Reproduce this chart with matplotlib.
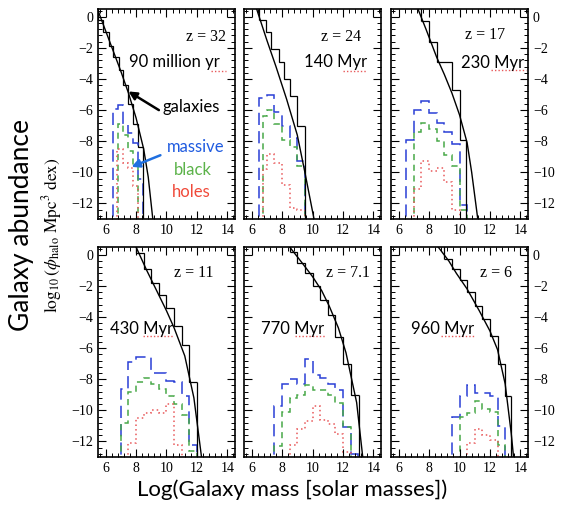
import matplotlib
matplotlib.use("Agg")
import matplotlib.pyplot as plt
from matplotlib.ticker import MultipleLocator, AutoMinorLocator

plt.rcParams['font.family'] = ['Liberation Serif', 'DejaVu Serif']
plt.rcParams['mathtext.fontset'] = 'stix'
SANS = 'Lato'

# ---- panel labels ----
z_labels = ["z = 32", "z = 24", "z = 17", "z = 11", "z = 7.1", "z = 6"]
age_labels = ["90 million yr", "140 Myr", "230 Myr", "430 Myr", "770 Myr", "960 Myr"]

# ---- analytic mass function (black curve) ----
cx_z32 = [5.5, 6.0, 6.5, 7.0, 7.5, 8.0, 8.5, 8.8, 9.1]
cy_z32 = [0.4, -0.9, -2.2, -3.5, -4.9, -6.5, -8.5, -10.3, -13.0]
cx_z24 = [6.33, 7.0, 7.6, 8.3, 9.0, 9.5, 10.1]
cy_z24 = [0.5, -1.5, -3.2, -5.3, -7.6, -10.0, -13.0]
cx_z17 = [7.27, 7.8, 8.5, 9.0, 9.5, 10.0, 10.5, 10.8, 11.2]
cy_z17 = [0.5, -0.8, -2.6, -3.7, -4.9, -6.3, -8.1, -10.0, -13.0]
cx_z11 = [8.0, 8.7, 9.3, 10.0, 10.5, 11.2, 11.8, 12.3]
cy_z11 = [0.5, -1.0, -2.2, -3.6, -4.7, -6.5, -9.2, -13.0]
cx_z7 = [8.5, 9.3, 10.0, 10.6, 11.1, 11.7, 12.2, 12.9, 13.3]
cy_z7 = [0.5, -0.5, -1.4, -2.3, -3.3, -4.7, -6.3, -9.5, -13.0]
cx_z6 = [8.6, 9.3, 9.8, 10.5, 11.3, 12.0, 12.5, 13.0, 13.4, 13.55]
cy_z6 = [0.5, -0.4, -1.2, -2.2, -3.6, -4.9, -6.1, -8.3, -11.5, -13.0]

# ---- galaxy histogram (black steps) ----
ge_z32 = [5.5, 5.85, 6.2, 6.5, 6.85, 7.15, 7.5, 7.8, 8.15, 8.45]
gv_z32 = [-0.2, -1.0, -1.9, -2.6, -3.4, -4.4, -5.6, -6.9, -8.4]
ge_z24 = [6.5, 6.95, 7.3, 7.8, 8.15, 8.5, 9.0, 9.5]
gv_z24 = [-0.2, -1.0, -2.1, -2.9, -4.0, -5.1, -7.0]
ge_z17 = [7.5, 8.0, 8.5, 9.5, 10.0, 10.45]
gv_z17 = [-0.3, -1.6, -2.9, -4.7, -7.9]
ge_z11 = [8.0, 8.5, 9.0, 9.5, 10.0, 10.5, 11.0, 11.5, 12.0]
gv_z11 = [0.1, -0.9, -1.8, -2.6, -3.4, -4.6, -5.8, -8.2]
ge_z7 = [8.5, 9.0, 9.5, 10.0, 10.5, 11.0, 11.5, 12.0, 12.5, 13.05]
gv_z7 = [0.2, -0.5, -1.2, -2.0, -2.9, -3.9, -5.3, -7.0, -9.0]
ge_z6 = [9.0, 9.5, 10.0, 10.5, 11.0, 11.5, 12.0, 12.5, 13.0, 13.4]
gv_z6 = [-0.3, -0.9, -1.6, -2.4, -3.3, -4.1, -5.2, -7.0, -9.1]

# ---- black hole hosts: blue (all), green, red ----
be_z32 = [6.5, 6.83, 7.15, 7.48, 7.8, 8.13, 8.45]
bv_z32 = [-5.9, -5.7, -6.9, -7.5, -8.1, -10.4]
ne_z32 = [6.83, 7.15, 7.48, 7.8, 8.13]
nv_z32 = [-6.9, -7.6, -8.6, -9.5]
re_z32 = [6.75, 7.15, 7.5, 7.8, 8.13]
rv_z32 = [-8.5, -9.4, -9.7, -10.9]

be_z24 = [6.5, 7.0, 7.5, 8.0, 8.5, 9.0, 9.5]
bv_z24 = [-5.2, -5.0, -6.1, -7.0, -7.8, -9.3]
ne_z24 = [6.75, 7.0, 7.5, 8.0, 8.5, 9.0, 9.5]
nv_z24 = [-6.4, -6.0, -6.9, -7.9, -8.4, -9.6]
re_z24 = [6.75, 7.0, 7.5, 8.0, 8.5, 9.0, 9.5]
rv_z24 = [-9.8, -8.8, -9.4, -10.8, -12.3, -12.4]

be_z17 = [6.5, 7.0, 7.5, 8.0, 8.5, 9.0, 9.5, 10.0, 10.5]
bv_z17 = [-7.9, -6.0, -5.4, -6.2, -6.8, -7.4, -8.2, -12.1]
ne_z17 = [7.0, 7.5, 8.0, 8.5, 9.0, 9.5, 10.0, 10.5]
nv_z17 = [-7.4, -6.8, -7.2, -8.0, -8.9, -9.6, -12.4]
re_z17 = [7.0, 7.5, 8.0, 8.5, 9.0, 9.5, 10.0]
rv_z17 = [-11.1, -9.3, -9.9, -9.7, -10.6, -12.4]

be_z11 = [7.0, 7.5, 8.0, 8.5, 9.0, 9.5, 10.0, 10.5, 11.0, 11.5, 12.0]
bv_z11 = [-8.6, -6.9, -6.55, -6.6, -7.6, -7.6, -8.1, -8.2, -9.1, -12.2]
ne_z11 = [7.0, 7.5, 8.0, 8.5, 9.0, 9.5, 10.0, 10.5, 11.0, 11.5, 12.0]
nv_z11 = [-10.8, -8.8, -8.2, -7.9, -8.3, -8.6, -9.1, -9.6, -10.3, -12.6]
re_z11 = [7.5, 8.0, 8.5, 9.0, 9.5, 10.0, 10.5, 11.0]
rv_z11 = [-12.1, -10.5, -10.2, -10.0, -10.2, -9.6, -12.2]

be_z7 = [7.5, 8.0, 8.5, 9.0, 9.5, 10.0, 10.5, 11.0, 11.5, 12.0, 12.5, 13.0]
bv_z7 = [-9.7, -8.3, -8.0, -8.3, -6.7, -7.7, -7.9, -8.3, -8.7, -11.1, -12.8]
ne_z7 = [7.5, 8.0, 8.5, 9.0, 9.5, 10.0, 10.5, 11.0, 11.5, 12.0, 12.5]
nv_z7 = [-12.3, -10.1, -9.2, -9.0, -8.4, -8.7, -8.7, -9.0, -9.5, -11.1]
re_z7 = [8.5, 9.0, 9.5, 10.0, 10.5, 11.0, 11.5, 12.0, 12.5]
rv_z7 = [-12.2, -11.2, -10.7, -9.7, -10.6, -10.9, -11.5, -12.7]

be_z6 = [9.5, 10.0, 10.5, 11.0, 11.5, 12.0, 12.5, 13.0]
bv_z6 = [-10.4, -9.1, -8.4, -8.9, -8.9, -9.1, -11.0]
ne_z6 = [10.0, 10.5, 11.0, 11.5, 12.0, 12.5, 13.0]
nv_z6 = [-10.4, -10.2, -9.4, -9.9, -10.1, -12.2]
re_z6 = [10.5, 11.0, 11.5, 12.0, 12.5]
rv_z6 = [-12.1, -11.2, -11.6, -11.9]

panels = [
    (cx_z32, cy_z32, ge_z32, gv_z32, be_z32, bv_z32, ne_z32, nv_z32, re_z32, rv_z32),
    (cx_z24, cy_z24, ge_z24, gv_z24, be_z24, bv_z24, ne_z24, nv_z24, re_z24, rv_z24),
    (cx_z17, cy_z17, ge_z17, gv_z17, be_z17, bv_z17, ne_z17, nv_z17, re_z17, rv_z17),
    (cx_z11, cy_z11, ge_z11, gv_z11, be_z11, bv_z11, ne_z11, nv_z11, re_z11, rv_z11),
    (cx_z7, cy_z7, ge_z7, gv_z7, be_z7, bv_z7, ne_z7, nv_z7, re_z7, rv_z7),
    (cx_z6, cy_z6, ge_z6, gv_z6, be_z6, bv_z6, ne_z6, nv_z6, re_z6, rv_z6),
]

# label placement (data coords) and the red spell-check squiggle under "yr"/"Myr"
z_pos = [(12.6, -1.3), (11.85, -1.3), (11.7, -1.2), (11.8, -1.2), (12.35, -1.2), (12.4, -1.2)]
age_pos = [(10.55, -2.9), (11.5, -2.9), (12.15, -3.0), (8.35, -4.77), (8.7, -4.77), (8.9, -4.77)]
squiggle = [(12.9, 13.9, -3.5), (12.0, 13.6, -3.5), (12.1, 14.4, -3.4),
            (8.45, 10.4, -5.2), (8.85, 10.8, -5.2), (8.8, 11.0, -5.2)]

BLUE = '#2a3fd6'
GREEN = '#48a848'
RED = '#e8585a'

W, H = 564.0, 509.0
fig = plt.figure(figsize=(W / 100, H / 100), dpi=100)
lefts = [98, 244, 391]
tops = [9, 247]

for i, p in enumerate(panels):
    cx, cy, ge, gv, be, bv, ne, nv, re, rv = p
    row, col = divmod(i, 3)
    ax = fig.add_axes([lefts[col] / W, 1 - (tops[row] + 210) / H, 137 / W, 210 / H])
    ax.set_xlim(5.5, 14.5)
    ax.set_ylim(-13, 0.5)

    ax.plot(cx, cy, color='black', lw=1.0)
    ax.stairs(gv, ge, baseline=None, color='black', lw=0.9)
    ax.vlines(ge[-1], -14, gv[-1], color='black', lw=0.9)
    ax.vlines(ge[0], gv[0], 1, color='black', lw=0.9)

    ax.stairs(bv, be, baseline=-14, color=BLUE, lw=1.1, linestyle=(0, (8, 4)))
    ax.stairs(nv, ne, baseline=-14, color=GREEN, lw=1.1, linestyle=(0, (4, 3)))
    ax.stairs(rv, re, baseline=-14, color=RED, lw=1.1, linestyle=(0, (1, 2)))

    ax.text(*z_pos[i], z_labels[i], fontsize=11.5, ha='center', va='center')
    ax.text(*age_pos[i], age_labels[i], fontsize=12, family=SANS, ha='center', va='center')
    x0, x1, yq = squiggle[i]
    ax.plot([x0, x1], [yq, yq], color=RED, lw=1.0, linestyle=(0, (1, 1.5)), clip_on=False)

    ax.xaxis.set_major_locator(MultipleLocator(2))
    ax.xaxis.set_minor_locator(AutoMinorLocator(5))
    ax.yaxis.set_major_locator(MultipleLocator(2))
    ax.yaxis.set_minor_locator(AutoMinorLocator(5))
    ax.tick_params(which='both', direction='in', top=True, right=True, labelsize=10)
    ax.tick_params(which='major', length=6, width=0.8)
    ax.tick_params(which='minor', length=3, width=0.7)
    ax.tick_params(axis='y', labelleft=(col == 0), labelright=(col == 2))
    for s in ax.spines.values():
        s.set_linewidth(1.2)

    if i == 0:
        ax.text(11.6, -5.8, 'galaxies', fontsize=12, family=SANS, ha='center', va='center')
        ax.annotate('', xy=(7.5, -4.8), xytext=(9.5, -6.0),
                    arrowprops=dict(arrowstyle='-|>', color='black', lw=1.8,
                                    shrinkA=0, shrinkB=0, mutation_scale=12))
        ax.text(11.9, -8.4, 'massive', fontsize=12, family=SANS, color='#1f5be0',
                ha='center', va='center')
        ax.annotate('', xy=(7.7, -9.65), xytext=(9.6, -8.9),
                    arrowprops=dict(arrowstyle='-|>', color='#1f6fe0', lw=1.8,
                                    shrinkA=0, shrinkB=0, mutation_scale=12))
        ax.text(11.7, -9.85, 'black', fontsize=12, family=SANS, color='#5cb34a',
                ha='center', va='center')
        ax.text(11.6, -11.25, 'holes', fontsize=12, family=SANS, color='#f04a3a',
                ha='center', va='center')

fig.text(0.092, 1 - 235 / H, r'$\log_{10}(\phi_{\rm halo}\ {\rm Mpc}^3\ {\rm dex})$',
         rotation=90, ha='center', va='center', fontsize=12.5)
fig.text(22 / W, 1 - 225 / H, 'Galaxy abundance', rotation=90, ha='center', va='center',
         fontsize=19, family=SANS)
fig.text(292 / W, 1 - 490 / H, 'Log(Galaxy mass [solar masses])', ha='center', va='center',
         fontsize=16, family=SANS)

fig.savefig('out.png', dpi=100)
